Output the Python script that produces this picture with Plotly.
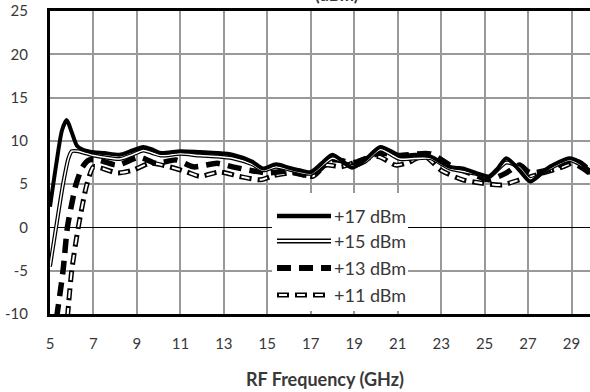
import plotly.graph_objects as go

# ---- data ----
f17 = [5.0, 5.3, 5.55, 5.77, 6.0, 6.25, 6.5, 7.0, 7.5, 8.2, 8.7, 9.3, 9.7, 10.1, 11.0, 11.9, 12.7, 13.4,
       14.3, 14.8, 15.4, 16.0, 16.5, 17.0, 17.5, 18.0, 18.9, 19.5, 20.2, 21.1, 21.8, 22.5, 23.4, 24.0,
       24.6, 25.2, 25.6, 26.0, 26.6, 27.1, 27.6, 28.0, 28.9, 29.4, 30.0]
v17 = [2.4, 7.5, 11.2, 12.4, 11.0, 9.4, 9.0, 8.7, 8.6, 8.4, 8.8, 9.3, 9.0, 8.6, 8.8, 8.7, 8.6, 8.4,
       7.6, 6.8, 7.3, 6.9, 6.6, 6.4, 7.4, 8.4, 6.9, 7.8, 9.3, 8.3, 8.4, 8.2, 7.0, 6.8,
       6.3, 5.9, 6.8, 8.0, 6.6, 5.3, 6.2, 7.0, 8.0, 7.5, 6.0]

f15 = [5.0, 5.28, 5.6, 5.85, 6.0, 6.3, 7.0, 7.5, 8.2, 8.7, 9.3, 9.7, 10.1, 11.0, 11.9, 12.7, 13.4, 14.3,
       14.8, 15.4, 16.0, 17.0, 18.0, 18.9, 19.5, 20.2, 21.1, 22.5, 23.4, 24.6, 25.2, 26.0, 26.6, 27.1,
       28.0, 28.9, 30.0]
v15 = [-4.5, 0.0, 5.0, 8.0, 8.8, 8.8, 8.3, 8.1, 7.9, 8.3, 8.9, 8.6, 8.3, 8.5, 8.3, 8.2, 8.0, 7.3,
       6.6, 7.0, 6.7, 6.2, 8.0, 7.1, 7.6, 9.0, 7.9, 8.0, 6.8, 6.2, 5.8, 7.5, 6.9, 5.6,
       6.8, 7.8, 6.3]

f13 = [5.3, 5.6, 5.8, 6.0, 6.2, 6.5, 6.8, 7.2, 8.1, 9.1, 9.9, 10.8, 11.6, 12.7, 13.4, 14.2, 15.0, 16.0,
       17.0, 18.0, 19.0, 20.2, 21.0, 22.5, 23.4, 24.6, 25.2, 26.0, 26.6, 27.1, 28.0, 28.9, 30.0]
v13 = [-10.5, -5.0, 0.0, 2.7, 5.0, 7.0, 7.8, 7.8, 7.2, 8.1, 7.4, 7.8, 7.0, 7.4, 7.0, 6.6, 6.3, 6.5,
       6.0, 7.8, 7.5, 8.6, 8.3, 8.5, 7.2, 6.0, 5.5, 6.3, 7.2, 6.3, 6.7, 7.6, 6.0]

f11 = [5.8, 6.0, 6.3, 6.7, 7.0, 7.3, 8.1, 8.8, 9.6, 10.5, 11.3, 11.9, 12.8, 13.7, 14.7, 15.3, 16.2,
       17.1, 17.7, 18.4, 19.1, 20.1, 20.9, 21.5, 22.2, 23.0, 24.0, 24.9, 25.8, 26.6, 27.7, 28.6, 29.3, 30.0]
v11 = [-10.5, -5.0, 0.0, 5.0, 7.0, 6.9, 6.3, 6.6, 7.4, 7.0, 6.4, 5.9, 6.4, 5.9, 5.5, 6.0, 6.3,
       5.9, 7.2, 7.0, 7.6, 8.2, 7.2, 7.5, 8.3, 6.6, 5.5, 5.1, 4.9, 5.5, 6.3, 7.0, 7.6, 6.2]

series_names = ["+17 dBm", "+15 dBm", "+13 dBm", "+11 dBm"]
x_ticks = [5, 7, 9, 11, 13, 15, 17, 19, 21, 23, 25, 27, 29]
y_ticks = [-10, -5, 0, 5, 10, 15, 20, 25]

FONT = "Lato"
TXT = "#383838"
DASH13 = "14px,8px"
DASH11_OUT = "12px,6px"
DASH11_IN = "0px,2px,8px,8px"   # white core inset in each black dash -> closed outline

fig = go.Figure()
sp = dict(shape="spline", smoothing=0.7)

# +11: outlined white dashes
fig.add_trace(go.Scatter(x=f11, y=v11, mode="lines", line=dict(color="black", width=5, dash=DASH11_OUT, **sp),
                         showlegend=False, hoverinfo="skip"))
fig.add_trace(go.Scatter(x=f11, y=v11, mode="lines", line=dict(color="white", width=2, dash=DASH11_IN, **sp),
                         name=series_names[3], showlegend=False))
# +13: thick black dashes
fig.add_trace(go.Scatter(x=f13, y=v13, mode="lines", line=dict(color="black", width=5.5, dash=DASH13, **sp),
                         name=series_names[2], showlegend=False))
# +15: double line
fig.add_trace(go.Scatter(x=f15, y=v15, mode="lines", line=dict(color="black", width=4, **sp),
                         showlegend=False, hoverinfo="skip"))
fig.add_trace(go.Scatter(x=f15, y=v15, mode="lines", line=dict(color="white", width=1.5, **sp),
                         name=series_names[1], showlegend=False))
# +17: thick solid
fig.add_trace(go.Scatter(x=f17, y=v17, mode="lines", line=dict(color="black", width=4, **sp),
                         name=series_names[0], showlegend=False))

# ---- custom legend (white box with composite line symbols) ----
L, R, T, B = 50, 590, 11, 314
W, H = R - L, B - T
def px(x):
    return (x - L) / W
def py(y):
    return (B - y) / H

shapes = [dict(type="rect", xref="paper", yref="paper", x0=px(272), x1=px(408), y0=py(311), y1=py(193),
               fillcolor="white", line=dict(width=0), layer="above")]
rows = [216, 241, 268, 295]
sx0, sx1 = px(277), px(331)
styles = [
    [dict(color="black", width=4.5)],
    [dict(color="black", width=5), dict(color="white", width=2)],
    [dict(color="black", width=6, dash=DASH13)],
    [dict(color="black", width=5, dash=DASH11_OUT), dict(color="white", width=2, dash=DASH11_IN)],
]
annotations = []
for name, yy, st in zip(series_names, rows, styles):
    for s in st:
        shapes.append(dict(type="line", xref="paper", yref="paper", x0=sx0, x1=sx1, y0=py(yy), y1=py(yy),
                           line=s, layer="above"))
    annotations.append(dict(text=name, xref="paper", yref="paper", x=px(332), y=py(yy), xanchor="left",
                            yanchor="middle", showarrow=False, font=dict(family=FONT, size=18, color=TXT)))

annotations.append(dict(text="<b>RF Frequency (GHz)</b>", xref="paper", yref="paper", x=px(325), y=py(379),
                        xanchor="center", yanchor="middle", showarrow=False,
                        font=dict(family=FONT, size=18, color=TXT)))
annotations.append(dict(text="<b>(dBm)</b>", xref="paper", yref="paper", x=px(337), y=1, yshift=4,
                        xanchor="center", yanchor="bottom", showarrow=False,
                        font=dict(family=FONT, size=17, color=TXT)))

fig.update_layout(
    width=590, height=392,
    margin=dict(l=L, r=590 - R, t=T, b=392 - B),
    paper_bgcolor="white", plot_bgcolor="white",
    showlegend=False,
    shapes=shapes, annotations=annotations,
    xaxis=dict(range=[5, 29.85], tickvals=x_ticks, ticktext=[str(t) for t in x_ticks],
               showgrid=True, gridcolor="#999999", gridwidth=1.5,
               showline=True, linecolor="black", linewidth=3, mirror=True,
               zeroline=False, ticks="", ticklabelstandoff=14,
               tickfont=dict(family=FONT, size=15, color=TXT)),
    yaxis=dict(range=[-10, 25], tickvals=y_ticks, ticktext=[str(t) for t in y_ticks],
               showgrid=True, gridcolor="#999999", gridwidth=1.5,
               showline=True, linecolor="black", linewidth=3,
               zeroline=True, zerolinecolor="black", zerolinewidth=1.2,
               ticks="", ticklabelstandoff=16,
               tickfont=dict(family=FONT, size=15, color=TXT)),
)

fig.write_html("out.html")
